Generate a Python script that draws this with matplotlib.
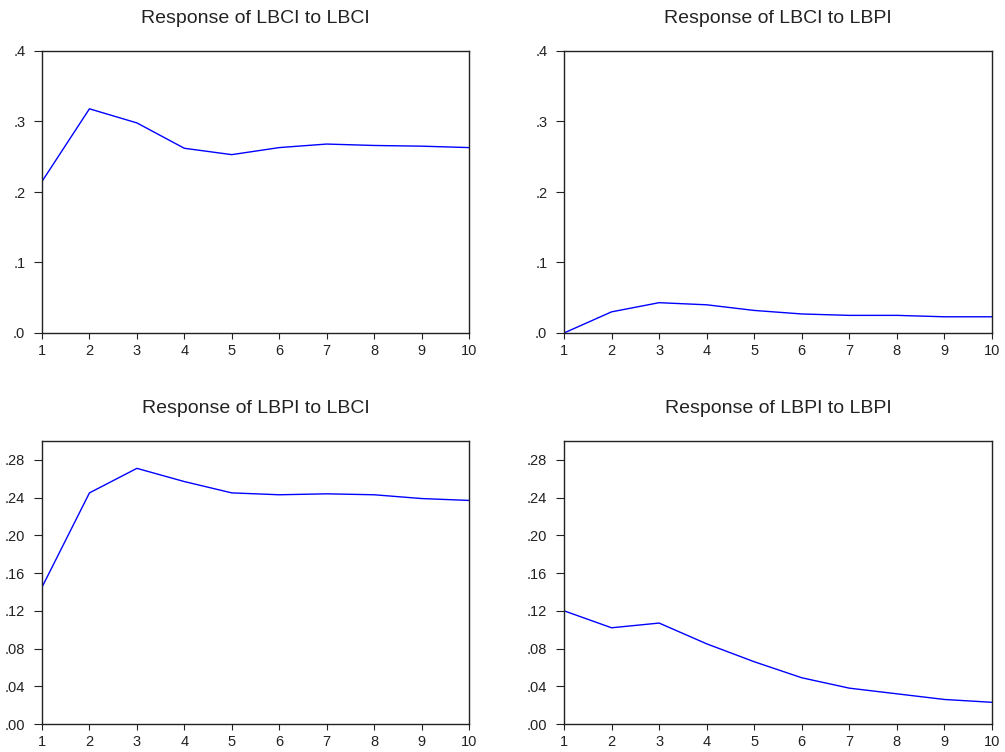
import matplotlib
matplotlib.use('Agg')
import matplotlib.pyplot as plt
from matplotlib.ticker import FuncFormatter

plt.rcParams['font.family'] = ['Liberation Sans', 'DejaVu Sans']

periods = [1, 2, 3, 4, 5, 6, 7, 8, 9, 10]

# impulse responses
lbci_to_lbci = [0.215, 0.318, 0.298, 0.262, 0.253, 0.263, 0.268, 0.266, 0.265, 0.263]
lbci_to_lbpi = [0.000, 0.030, 0.043, 0.040, 0.032, 0.027, 0.025, 0.025, 0.023, 0.023]
lbpi_to_lbci = [0.145, 0.245, 0.271, 0.257, 0.245, 0.243, 0.244, 0.243, 0.239, 0.237]
lbpi_to_lbpi = [0.120, 0.102, 0.107, 0.085, 0.066, 0.049, 0.038, 0.032, 0.026, 0.023]

titles = ['Response of LBCI to LBCI', 'Response of LBCI to LBPI',
          'Response of LBPI to LBCI', 'Response of LBPI to LBPI']
series = [lbci_to_lbci, lbci_to_lbpi, lbpi_to_lbci, lbpi_to_lbpi]

top_yticks = [0.0, 0.1, 0.2, 0.3, 0.4]
bottom_yticks = [0.00, 0.04, 0.08, 0.12, 0.16, 0.20, 0.24, 0.28]

W, H = 1005, 752
fig = plt.figure(figsize=(W / 100, H / 100), dpi=100)

# axes boxes in pixels: left, top, right, bottom
boxes = [(42, 51, 469, 333), (564, 51, 992, 333),
         (42, 441, 469, 724), (564, 441, 992, 724)]


def strip_zero(decimals):
    def fmt(v, pos):
        s = f'{v:.{decimals}f}'
        return s[1:] if s.startswith('0') else s
    return fmt


for i, (box, ys, title) in enumerate(zip(boxes, series, titles)):
    l, t, r, b = box
    ax = fig.add_axes([l / W, 1 - b / H, (r - l) / W, (b - t) / H])
    ax.plot(periods, ys, color='#0000ff', lw=1.0)
    ax.set_xlim(1, 10)
    ax.set_xticks(periods)
    if i < 2:
        ax.set_ylim(0, 0.4)
        ax.set_yticks(top_yticks)
        ax.yaxis.set_major_formatter(FuncFormatter(strip_zero(1)))
    else:
        ax.set_ylim(0, 0.30)
        ax.set_yticks(bottom_yticks)
        ax.yaxis.set_major_formatter(FuncFormatter(strip_zero(2)))
    ax.tick_params(axis='y', direction='out', length=6, width=0.8, pad=6,
                   labelsize=10.5, colors='#222222')
    ax.tick_params(axis='x', direction='out', length=4, width=0.8, pad=4,
                   labelsize=10.5, colors='#222222')
    for sp in ax.spines.values():
        sp.set_linewidth(1.0)
        sp.set_color('#222222')
    ax.set_title(title, fontsize=14, pad=20, color='#222222')

fig.savefig('out.png', dpi=100)
